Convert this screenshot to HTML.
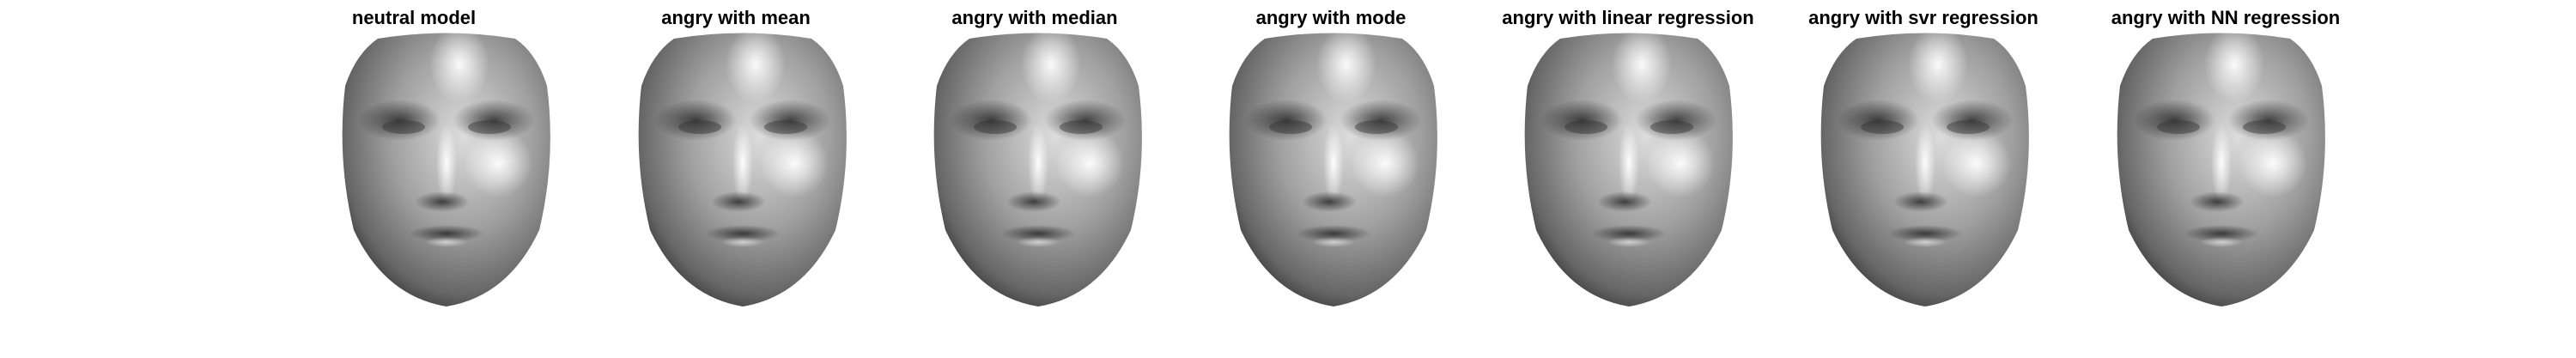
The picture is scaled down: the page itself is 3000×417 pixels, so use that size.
<!DOCTYPE html>
<html><head><meta charset="utf-8"><style>
html,body{margin:0;padding:0;background:#fff;width:3000px;height:417px;overflow:hidden}
svg{display:block}
text{font-family:"Liberation Sans",Arial,sans-serif;font-weight:bold;font-size:22px;fill:#000}
</style></head><body>
<svg id="fig" width="3000" height="417" viewBox="0 0 3000 417">
<defs>
<radialGradient id="skin" cx="0.58" cy="0.38" r="0.68">
<stop offset="0" stop-color="#dcdcdc"/>
<stop offset="0.5" stop-color="#a0a0a0"/>
<stop offset="0.85" stop-color="#666"/>
<stop offset="1" stop-color="#333"/>
</radialGradient>
<radialGradient id="hl" cx="0.5" cy="0.5" r="0.5">
<stop offset="0" stop-color="#fff" stop-opacity="0.95"/>
<stop offset="1" stop-color="#fff" stop-opacity="0"/>
</radialGradient>
<radialGradient id="dk" cx="0.5" cy="0.5" r="0.5">
<stop offset="0" stop-color="#222" stop-opacity="0.8"/>
<stop offset="1" stop-color="#222" stop-opacity="0"/>
</radialGradient>
</defs>
</svg>
<script>
const titles = ["neutral model","angry with mean","angry with median","angry with mode","angry with linear regression","angry with svr regression","angry with NN regression"];
const titleX = [482, 857, 1205, 1550, 1896, 2240, 2592];
const faceX = [520, 865, 1209, 1553, 1897, 2242, 2587];
const svg = document.getElementById('fig');
const NS = 'http://www.w3.org/2000/svg';
function mk(tag, attrs){const e=document.createElementNS(NS,tag);for(const k in attrs)e.setAttribute(k,attrs[k]);return e;}
titles.forEach((t,i)=>{
  const tx = mk('text',{x:titleX[i],y:28,'text-anchor':'middle'});
  tx.textContent = t;
  
  
  svg.appendChild(tx);
  const cx = faceX[i];
  const g = mk('g',{});
  
  
  const d = `M${cx-80},45 Q${cx},32 ${cx+80},45 Q${cx+105},62 ${cx+117},100 Q${cx+128},185 ${cx+108},268 Q${cx+72},345 ${cx},357 Q${cx-72},345 ${cx-108},268 Q${cx-128},185 ${cx-118},100 Q${cx-105},62 ${cx-80},45 Z`;
  g.appendChild(mk('path',{d:d,fill:'url(#skin)'}));
  g.appendChild(mk('ellipse',{cx:cx+15,cy:75,rx:35,ry:45,fill:'url(#hl)'}));
  g.appendChild(mk('ellipse',{cx:cx+60,cy:190,rx:40,ry:40,fill:'url(#hl)'}));
  g.appendChild(mk('ellipse',{cx:cx-55,cy:140,rx:48,ry:24,fill:'url(#dk)'}));
  g.appendChild(mk('ellipse',{cx:cx+55,cy:140,rx:48,ry:24,fill:'url(#dk)'}));
  g.appendChild(mk('ellipse',{cx:cx-50,cy:148,rx:25,ry:8,fill:'#333',opacity:0.45}));
  g.appendChild(mk('ellipse',{cx:cx+50,cy:148,rx:25,ry:8,fill:'#333',opacity:0.45}));
  g.appendChild(mk('ellipse',{cx:cx,cy:190,rx:12,ry:48,fill:'url(#hl)'}));
  g.appendChild(mk('ellipse',{cx:cx-5,cy:235,rx:32,ry:12,fill:'url(#dk)'}));
  g.appendChild(mk('ellipse',{cx:cx,cy:272,rx:44,ry:10,fill:'url(#dk)'}));
  g.appendChild(mk('ellipse',{cx:cx,cy:282,rx:25,ry:6,fill:'url(#hl)',opacity:0.6}));
  svg.appendChild(g);
});
</script>
</body></html>
